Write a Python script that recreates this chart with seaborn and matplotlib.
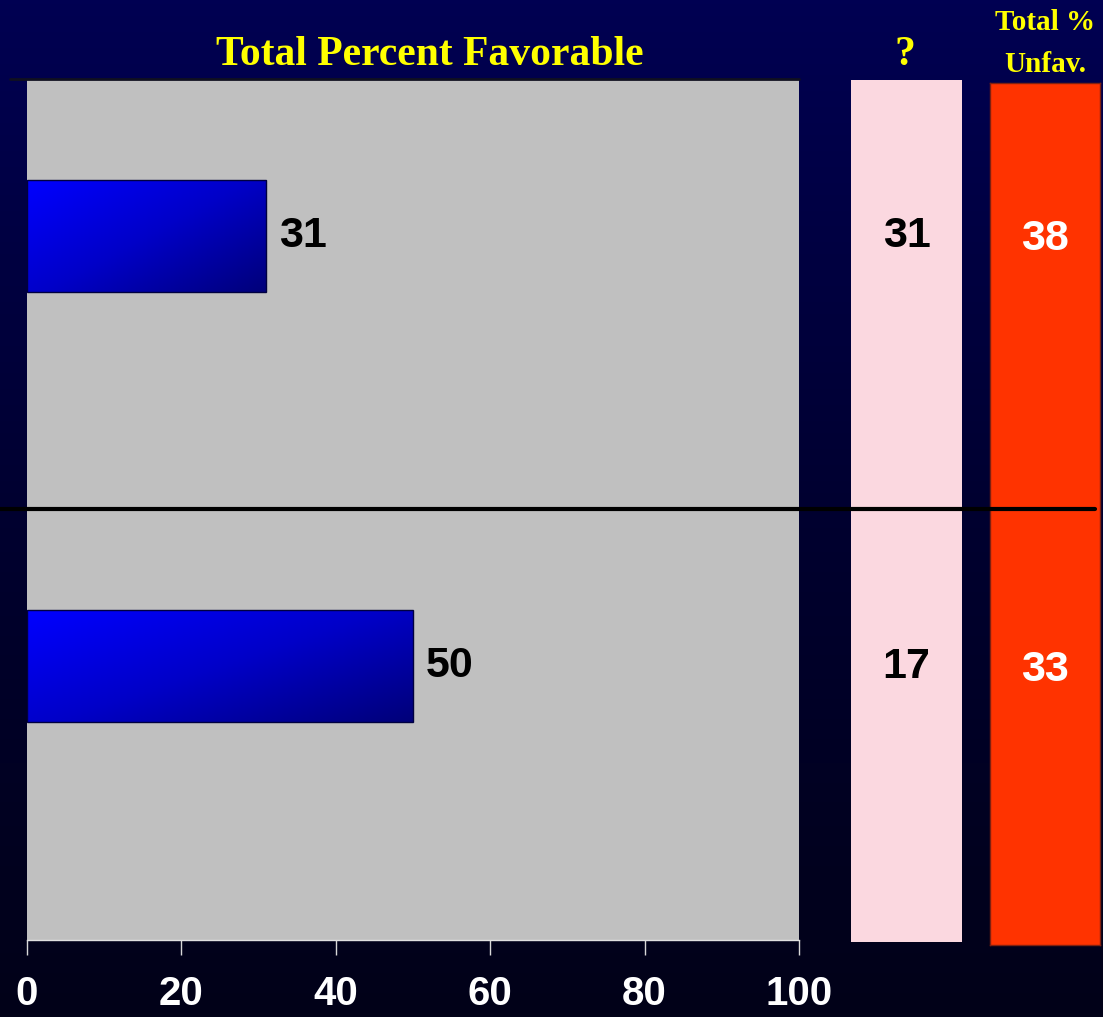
import numpy as np
import pandas as pd
import matplotlib
matplotlib.use("Agg")
import matplotlib.pyplot as plt
from matplotlib.lines import Line2D
from matplotlib.colors import LinearSegmentedColormap
import seaborn as sns

# Survey results, two groups
groups = ["Group 1", "Group 2"]
favorable = [31, 50]
unsure = [31, 17]
unfavorable = [38, 33]
x_ticks = [0, 20, 40, 60, 80, 100]

df = pd.DataFrame({"group": groups, "favorable": favorable})

sns.set_theme(style="white")
plt.rcParams["font.family"] = ["Liberation Sans", "DejaVu Sans"]

W, H = 1103, 1017
fig = plt.figure(figsize=(W / 100, H / 100), dpi=100)

# Navy-to-black background
bg = fig.add_axes([0, 0, 1, 1], zorder=-10)
grad = np.linspace(0, 1, 256)[:, None]
bg_cmap = LinearSegmentedColormap.from_list("bg", ["#000052", "#000030", "#020218"])
bg.imshow(grad, aspect="auto", cmap=bg_cmap, extent=[0, 1, 0, 1])
bg.set_axis_off()


def fig_rect(x0, y0, x1, y1):
    return [x0 / W, 1 - y1 / H, (x1 - x0) / W, (y1 - y0) / H]


YLIM = (1.637, -0.363)

# Main favorable bar panel
ax = fig.add_axes(fig_rect(27, 80, 799, 940))
ax.set_facecolor("#c0c0c0")
sns.barplot(data=df, x="favorable", y="group", orient="h", width=0.26,
            color="#0000e0", edgecolor="#000040", linewidth=1, ax=ax)

# Diagonal blue gradient inside each bar
bar_cmap = LinearSegmentedColormap.from_list("bar", ["#0000ff", "#0000c8", "#00007a"])
gx, gy = np.meshgrid(np.linspace(0, 1, 200), np.linspace(0, 1, 60))
g = (gx * 0.7 + gy * 0.6) / 1.3
for patch in ax.patches:
    x0, y0 = patch.get_x(), patch.get_y()
    w, h = patch.get_width(), patch.get_height()
    im = ax.imshow(g, cmap=bar_cmap, aspect="auto",
                   extent=[x0, x0 + w, y0 + h, y0], origin="upper", zorder=2)
    im.set_clip_path(patch)
    patch.set_zorder(3)
    patch.set_facecolor("none")
ax.set_xlim(0, 100)
ax.set_ylim(*YLIM)

for i, v in enumerate(favorable):
    ax.text(v + 1.7, i, str(v), va="center", ha="left", fontsize=31,
            fontweight="bold", color="black", zorder=4)

ax.set_xticks(x_ticks)
ax.set_xticklabels([str(t) for t in x_ticks], fontsize=29, fontweight="bold",
                   color="white")
ax.tick_params(axis="x", bottom=True, length=11, width=1, color="#d8d8d8",
               pad=14)
ax.set_yticks([])
ax.set_xlabel("")
ax.set_ylabel("")
for s in ["left", "right", "top"]:
    ax.spines[s].set_visible(False)
ax.spines["bottom"].set_color("#e0e0e0")
ax.spines["bottom"].set_linewidth(1)

# Top border line over the panel
fig.add_artist(Line2D([10 / W, 799 / W], [1 - 79 / H, 1 - 79 / H],
                      color="#101020", lw=2))

# "?" column
ax_q = fig.add_axes(fig_rect(851, 80, 962, 942))
ax_q.set_facecolor("#fbd8e0")
ax_q.set_xlim(0, 1)
ax_q.set_ylim(*YLIM)
for i, v in enumerate(unsure):
    ax_q.text(0.5, i, str(v), ha="center", va="center", fontsize=31,
              fontweight="bold", color="black")
ax_q.set_xticks([])
ax_q.set_yticks([])
for s in ax_q.spines.values():
    s.set_visible(False)

# Unfavorable column
ax_u = fig.add_axes(fig_rect(990, 83, 1100, 945))
ax_u.set_facecolor("#ff3300")
ax_u.set_xlim(0, 1)
ax_u.set_ylim(*YLIM)
for i, v in enumerate(unfavorable):
    ax_u.text(0.5, i, str(v), ha="center", va="center", fontsize=31,
              fontweight="bold", color="white")
ax_u.set_xticks([])
ax_u.set_yticks([])
for s in ax_u.spines.values():
    s.set_color("#802010")
    s.set_linewidth(1)

# Divider between the two groups
fig.add_artist(Line2D([0, 1095 / W], [1 - 509 / H, 1 - 509 / H],
                      color="black", lw=3, zorder=20))

# Headers
serif = ["Liberation Serif", "DejaVu Serif"]
fig.text(430 / W, 1 - 55 / H, "Total Percent Favorable", ha="center",
         va="center", fontsize=30, fontweight="bold", color="#ffff00",
         family=serif)
fig.text(905 / W, 1 - 55 / H, "?", ha="center", va="center", fontsize=30,
         fontweight="bold", color="#ffff00", family=serif)
fig.text(1045 / W, 1 - 23 / H, "Total %", ha="center", va="center",
         fontsize=21, fontweight="bold", color="#ffff00", family=serif)
fig.text(1045 / W, 1 - 64 / H, "Unfav.", ha="center", va="center",
         fontsize=21, fontweight="bold", color="#ffff00", family=serif)

fig.savefig("out.png", dpi=100)
